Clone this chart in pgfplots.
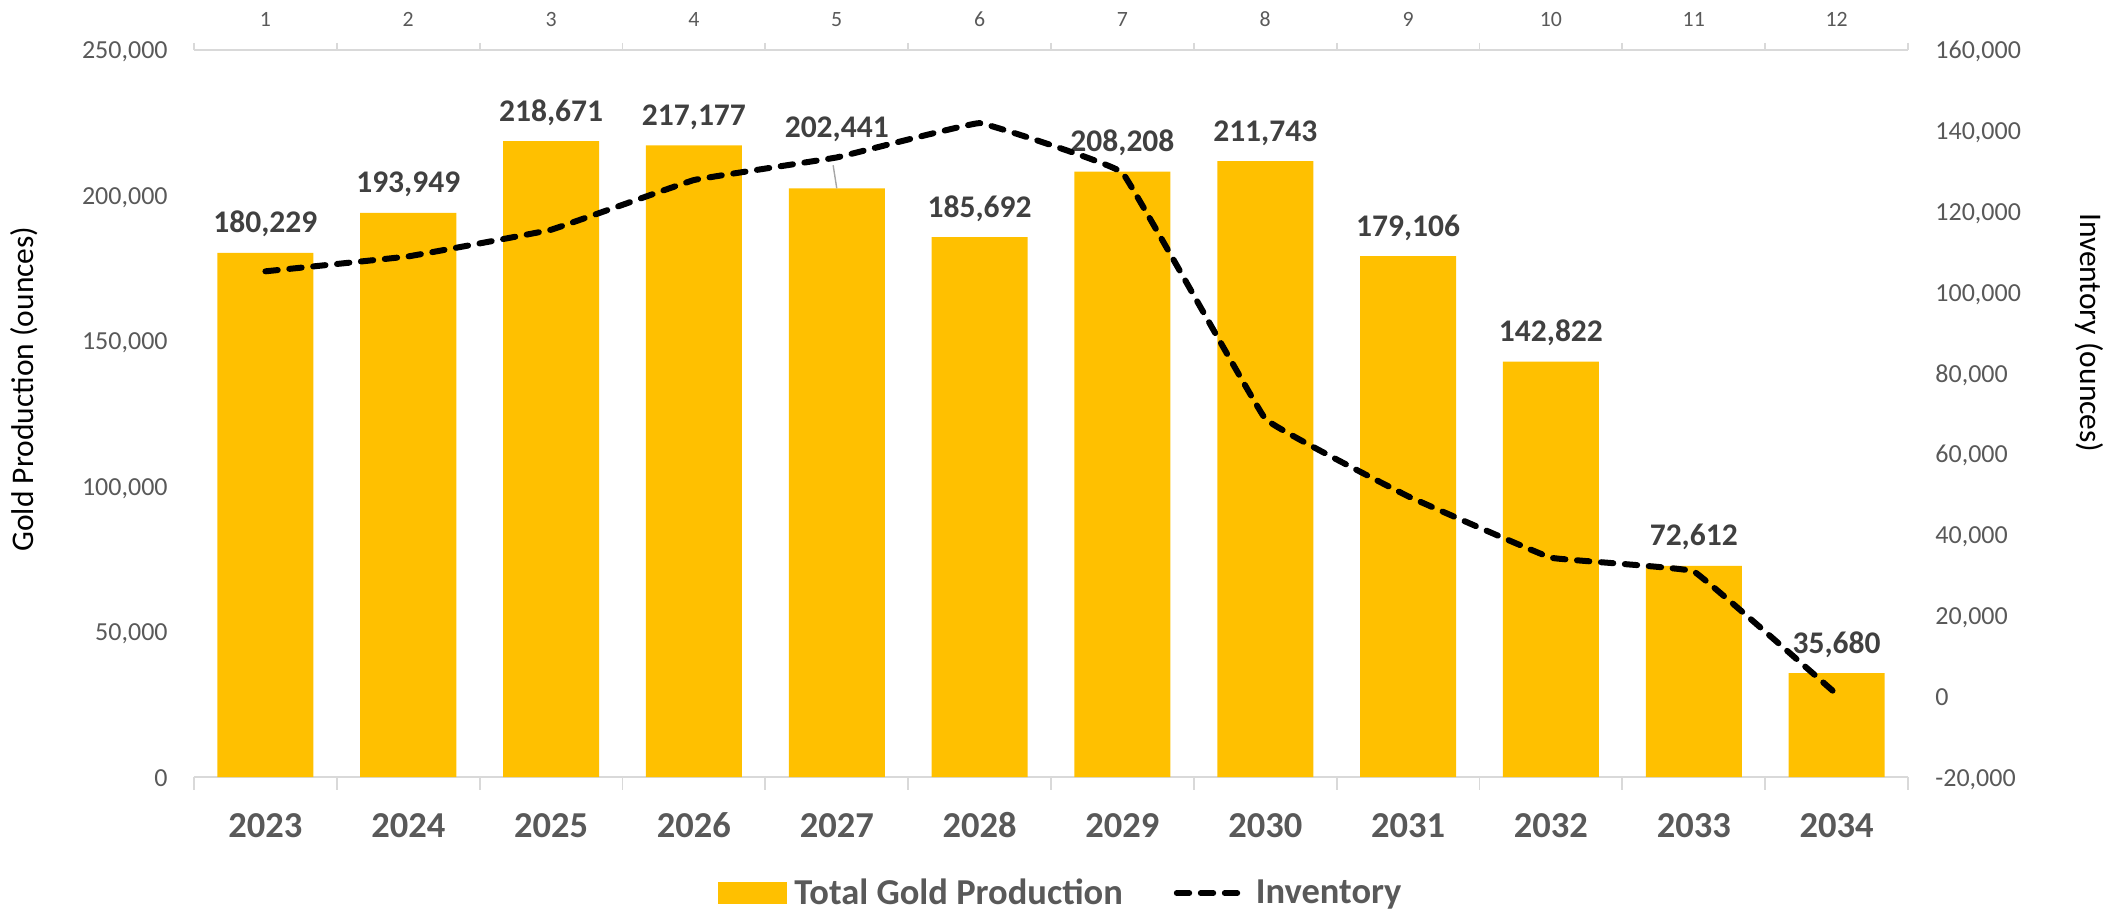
\documentclass[border=0pt]{standalone}
\usepackage{fontspec}
\setmainfont{Carlito}
\usepackage{pgfplots}
\pgfplotsset{compat=1.18}
\usepackage{pgfplotstable}
\usetikzlibrary{calc}

\definecolor{barc}{HTML}{FFC000}
\definecolor{tickc}{HTML}{595959}
\definecolor{lblc}{HTML}{404040}
\definecolor{axc}{HTML}{D9D9D9}
\definecolor{leadc}{HTML}{A6A6A6}

\newcommand\fs[1]{\fontsize{#1}{#1}\selectfont}

\pgfplotstableread{
x prod inv off
1 180229 105200 0
2 193949 108900 0
3 218671 115500 0
4 217177 127800 0
5 202441 133400 15.5
6 185692 141900 0
7 208208 129600 0
8 211743 68700 0
9 179106 49500 0
10 142822 34300 0
11 72612 30900 0
12 35680 500 0
}\datatable

\begin{document}
\begin{tikzpicture}
\begin{axis}[
  scale only axis, width=857pt, height=363.5pt,
  xmin=0.5, xmax=12.5, ymin=0, ymax=250000,
  clip=false,
  axis x line*=bottom, axis y line*=left,
  y axis line style={draw=none},
  x axis line style={draw=axc, line width=0.9pt, -},
  tick align=outside,
  major tick length=0pt,
  minor tick length=6.3pt,
  xtick={1,...,12},
  xticklabels={2023,2024,2025,2026,2027,2028,2029,2030,2031,2032,2033,2034},
  minor xtick={0.5,1.5,2.5,3.5,4.5,5.5,6.5,7.5,8.5,9.5,10.5,11.5,12.5},
  minor x tick style={draw=axc, line width=0.9pt},
  xticklabel style={font=\bfseries\fs{18.25}, text=tickc, anchor=base, inner sep=0pt, yshift=-30pt},
  ytick={0,50000,100000,150000,200000,250000},
  y tick style={draw=none},
  yticklabel style={font=\fs{13}, text=tickc, anchor=base east, inner sep=0pt, xshift=-13pt, yshift=-4.5pt},
  scaled y ticks=false,
  /pgf/number format/fixed,
  /pgf/number format/precision=0,
  /pgf/number format/1000 sep={,},
  /pgf/number format/assume math mode=true,
  ylabel={Gold Production (ounces)},
  every axis y label/.style={at={(axis description cs:-0.0991,0.5337)}, rotate=90, anchor=center, font=\fs{15.75}, text=black},
]
\addplot[ybar, bar width=48pt, fill=barc, draw=none,
  point meta=explicit,
  visualization depends on={\thisrow{off} \as \myoff},
  nodes near coords,
  every node near coord/.append style={font=\bfseries\fs{15.75}, text=lblc, anchor=base, inner sep=0pt, yshift=10pt, yshift=\myoff pt},
] table[x=x, y=prod, meta=prod] \datatable;
\draw[leadc, line width=0.7pt] (axis cs:5,202441) -- ([xshift=-1.8pt,yshift=11.5pt]axis cs:5,202441);
\coordinate (bl) at (rel axis cs:0,0);
\coordinate (tr) at (rel axis cs:1,1);
\end{axis}

\begin{axis}[
  scale only axis, width=857pt, height=363.5pt,
  xmin=0.5, xmax=12.5, ymin=-20000, ymax=160000,
  axis x line*=top, axis y line*=right,
  y axis line style={draw=none},
  x axis line style={draw=axc, line width=0.9pt, -},
  tick align=outside,
  major tick length=0pt,
  minor tick length=3.5pt,
  xtick={1,...,12},
  xticklabels={1,2,3,4,5,6,7,8,9,10,11,12},
  minor xtick={0.5,1.5,2.5,3.5,4.5,5.5,6.5,7.5,8.5,9.5,10.5,11.5,12.5},
  minor x tick style={draw=axc, line width=0.9pt},
  xticklabel style={font=\fs{10.9}, text=tickc, anchor=base, inner sep=0pt, yshift=11.5pt},
  ytick={-20000,0,20000,40000,60000,80000,100000,120000,140000,160000},
  y tick style={draw=none},
  yticklabel style={font=\fs{13}, text=tickc, anchor=base west, inner sep=0pt, xshift=13.5pt, yshift=-4.5pt},
  scaled y ticks=false,
  /pgf/number format/fixed,
  /pgf/number format/precision=0,
  /pgf/number format/1000 sep={,},
  /pgf/number format/assume math mode=true,
  ylabel={Inventory (ounces)},
  every axis y label/.style={at={(axis description cs:1.1058,0.611)}, rotate=-90, anchor=center, font=\fs{15.75}, text=black},
  legend style={at={(axis description cs:0.505,-0.1596)}, anchor=center, draw=none, fill=none,
    font=\bfseries\fs{18.25}, text=tickc, nodes={inner sep=0pt},
    /tikz/every odd column/.append style={column sep=4pt},
    /tikz/every even column/.append style={column sep=25.5pt}},
  legend columns=2,
  legend cell align=left,
]
\addlegendimage{legend image code/.code={\fill[barc] (0pt,-5.25pt) rectangle (34pt,5.25pt);}}
\addlegendentry{Total Gold Production}
\addplot[black, line width=3pt, line cap=round, dash pattern=on 6.2pt off 5.8pt, smooth, tension=0.1,
  legend image code/.code={\draw (0pt,0pt) -- (34pt,0pt);}]
  table[x=x, y=inv] \datatable;
\addlegendentry{Inventory}
\end{axis}
\pgfresetboundingbox
\path[use as bounding box] ($(bl)+(-97pt,-69pt)$) rectangle ($(tr)+(102.5pt,25pt)$);
\end{tikzpicture}
\end{document}
